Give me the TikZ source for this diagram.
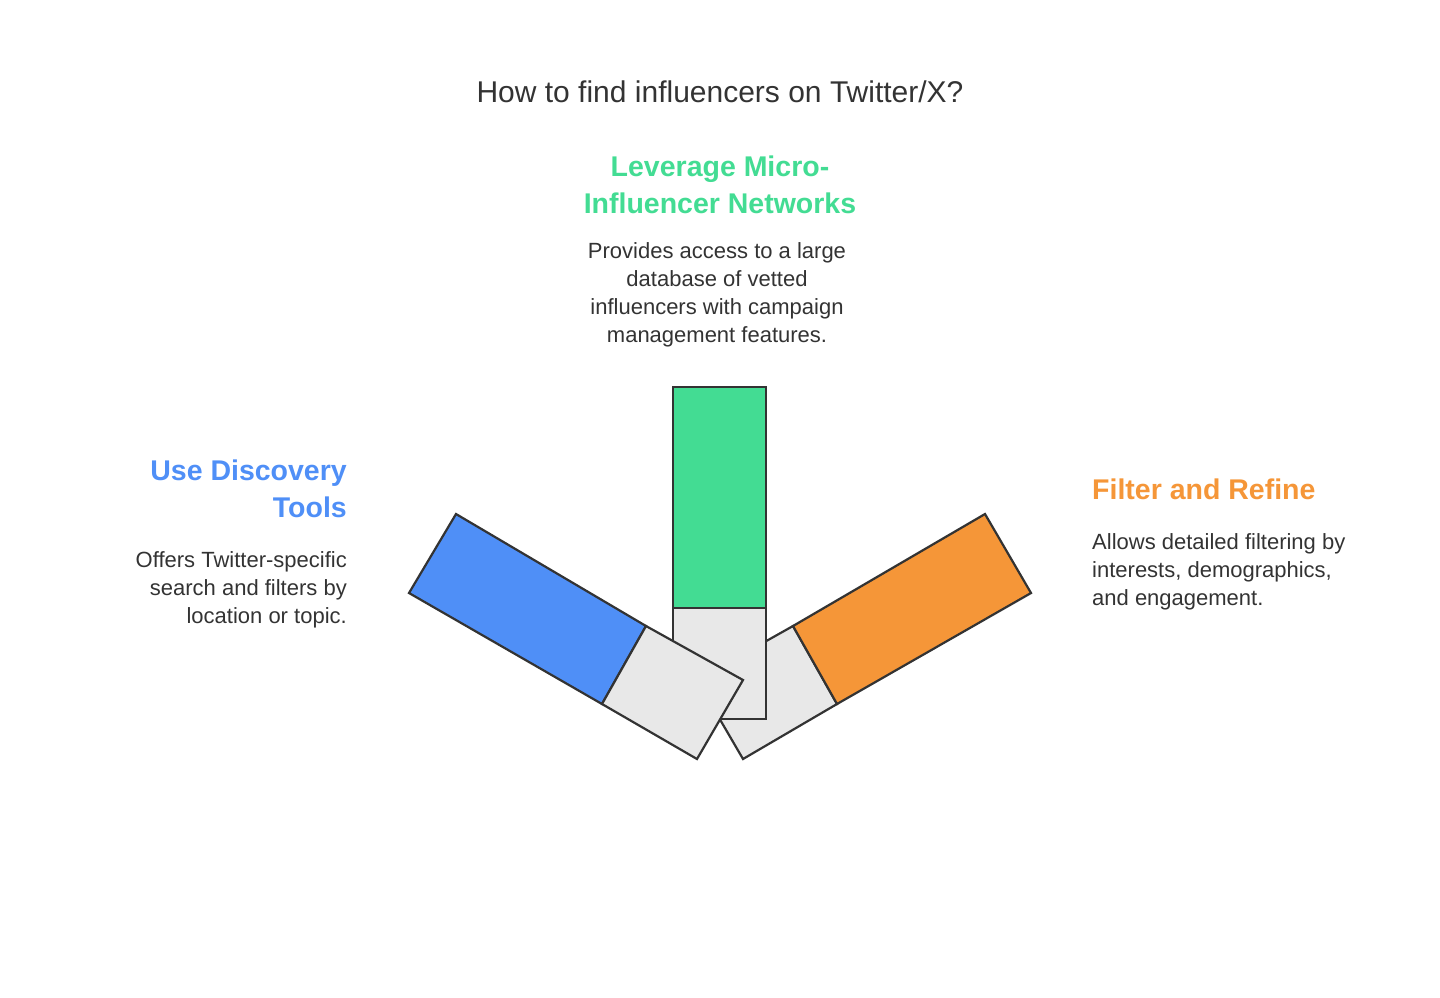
\documentclass[tikz,border=0pt]{standalone}
\usepackage{fontspec}
\setmainfont{Liberation Sans}
\definecolor{cblue}{HTML}{4F8FF7}
\definecolor{cgreen}{HTML}{43DC93}
\definecolor{corange}{HTML}{F59638}
\definecolor{cgrey}{HTML}{E8E8E8}
\definecolor{cline}{HTML}{333333}
\definecolor{ctext}{HTML}{333333}
\tikzset{
 part/.style={draw=cline,line width=2.2pt,line join=miter},
 head/.style={font=\bfseries\fontsize{28.5}{37}\selectfont,inner sep=0pt},
 body/.style={font=\fontsize{22}{28}\selectfont,text=ctext,inner sep=0pt},
}
\begin{document}
\begin{tikzpicture}[x=1pt,y=-1pt]
\path[use as bounding box] (0,0) rectangle (1440,997);
% right bar
\draw[part,fill=cgrey] (697,680) -- (793,626) -- (837,704) -- (743,759) -- cycle;
\draw[part,fill=corange] (793,626) -- (985,514) -- (1031,593) -- (837,704) -- cycle;
% center bar
\draw[part,fill=cgrey] (673,608) rectangle (766,719);
\draw[part,fill=cgreen] (673,387) rectangle (766,608);
% left bar
\draw[part,fill=cblue] (456,514) -- (646,626) -- (602,704) -- (409,593) -- cycle;
\draw[part,fill=cgrey] (646,626) -- (743,680) -- (697,759) -- (602,704) -- cycle;
% texts
\node[font=\fontsize{30}{34}\selectfont,text=ctext,inner sep=0pt] (title) at (720,92) {How to find influencers on Twitter/X?};
\node[head,text=cgreen,align=center] (gh) at (720,185) {Leverage Micro-\\Influencer Networks};
\node[body,align=center] (gb) at (717,295) {Provides access to a large\\database of vetted\\influencers with campaign\\management features.};
\node[head,text=cblue,align=right,anchor=east] (bh) at (347,489) {Use Discovery\\Tools};
\node[body,align=right,anchor=east] (bb) at (347,590) {Offers Twitter-specific\\search and filters by\\location or topic.};
\node[head,text=corange,align=left,anchor=west] (oh) at (1092,489) {Filter and Refine};
\node[body,align=left,anchor=west] (ob) at (1092,572) {Allows detailed filtering by\\interests, demographics,\\and engagement.};
\end{tikzpicture}
\end{document}
